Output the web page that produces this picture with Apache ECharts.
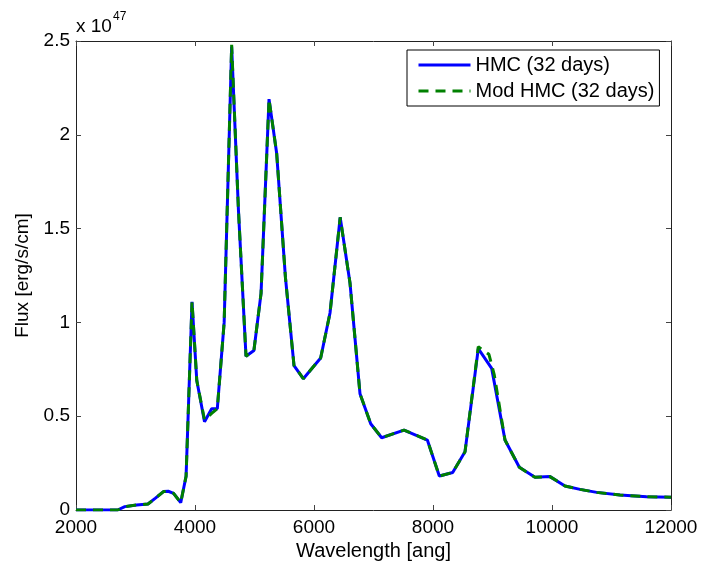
<!DOCTYPE html>
<html>
<head>
<meta charset="utf-8">
<script src="https://cdn.jsdelivr.net/npm/echarts@6/dist/echarts.min.js"></script>
<style>
html,body{margin:0;padding:0;background:#fff;}
#chart{width:703px;height:568px;}
</style>
</head>
<body>
<div id="chart"></div>
<script>
// Flux values are in units of 1e47 erg/s/cm
var hmcWave = [2000, 2700, 2820, 3020, 3210, 3330, 3470, 3550, 3640, 3760, 3850, 3950, 4030, 4160, 4280, 4375, 4490, 4616, 4730, 4857, 4990, 5110, 5244, 5373, 5520, 5664, 5820, 6112, 6269, 6440, 6605, 6773, 6953, 7137, 7513, 7905, 8106, 8331, 8538, 8761, 8986, 9210, 9451, 9714, 9966, 10218, 10471, 10751, 11143, 11591, 12000];
var hmcFlux = [0, 0, 0.018, 0.027, 0.032, 0.062, 0.098, 0.1, 0.089, 0.039, 0.18, 1.11, 0.69, 0.47, 0.54, 0.54, 1.0, 2.47, 1.6, 0.82, 0.85, 1.155, 2.19, 1.9, 1.24, 0.77, 0.7, 0.81, 1.05, 1.56, 1.21, 0.62, 0.46, 0.385, 0.426, 0.373, 0.181, 0.2, 0.31, 0.86, 0.755, 0.373, 0.228, 0.174, 0.178, 0.128, 0.11, 0.094, 0.08, 0.071, 0.068];
var modWave = [2000, 2700, 2820, 3020, 3210, 3330, 3470, 3550, 3640, 3760, 3850, 3950, 4030, 4160, 4280, 4375, 4490, 4616, 4730, 4857, 4990, 5110, 5244, 5373, 5520, 5664, 5820, 6112, 6269, 6440, 6605, 6773, 6953, 7137, 7513, 7905, 8106, 8331, 8538, 8761, 8940, 9030, 9210, 9451, 9714, 9966, 10218, 10471, 10751, 11143, 11591, 12000];
var modFlux = [0, 0, 0.018, 0.027, 0.032, 0.062, 0.098, 0.1, 0.089, 0.039, 0.18, 1.11, 0.69, 0.48, 0.515, 0.54, 1.0, 2.48, 1.6, 0.82, 0.85, 1.155, 2.19, 1.9, 1.24, 0.77, 0.7, 0.81, 1.05, 1.56, 1.21, 0.62, 0.46, 0.385, 0.426, 0.373, 0.181, 0.2, 0.31, 0.87, 0.83, 0.72, 0.373, 0.228, 0.174, 0.178, 0.128, 0.11, 0.094, 0.08, 0.071, 0.068];
var xTicks = [2000, 4000, 6000, 8000, 10000, 12000];
var yTicks = [0, 0.5, 1, 1.5, 2, 2.5];
var seriesNames = ['HMC (32 days)', 'Mod HMC (32 days)'];

function pairs(xs, ys) { return xs.map(function (x, i) { return [x, ys[i]]; }); }

var FONT = 'Liberation Sans, Arial, Helvetica, sans-serif';
var frame = '#222';
var chart = echarts.init(document.getElementById('chart'));

function xAx(pos, labels) {
  return {
    type: 'value', position: pos, min: xTicks[0], max: xTicks[xTicks.length - 1], interval: 2000,
    axisLine: { show: true, onZero: false, lineStyle: { color: frame, width: 1 } },
    axisTick: { show: true, inside: true, length: 5, lineStyle: { color: '#444' } },
    splitLine: { show: false },
    axisLabel: { show: labels, color: '#000', fontSize: 19, fontFamily: FONT, margin: 8,
      formatter: function (v) { return String(v); } },
    name: labels ? 'Wavelength [ang]' : '', nameLocation: 'middle', nameGap: 31,
    nameTextStyle: { color: '#000', fontSize: 20, fontFamily: FONT }
  };
}
function yAx(pos, labels) {
  return {
    type: 'value', position: pos, min: yTicks[0], max: yTicks[yTicks.length - 1], interval: 0.5,
    axisLine: { show: true, onZero: false, lineStyle: { color: frame, width: 1 } },
    axisTick: { show: true, inside: true, length: 5, lineStyle: { color: '#444' } },
    splitLine: { show: false },
    axisLabel: { show: labels, color: '#000', fontSize: 19, fontFamily: FONT, margin: 6 },
    name: labels ? 'Flux [erg/s/cm]' : '', nameLocation: 'middle', nameGap: 40,
    nameTextStyle: { color: '#000', fontSize: 19, fontFamily: FONT }
  };
}

chart.setOption({
  backgroundColor: '#fff',
  animation: false,
  grid: { left: 76, right: 32, top: 41, bottom: 58, containLabel: false },
  xAxis: [xAx('bottom', true), xAx('top', false)],
  yAxis: [yAx('left', true), yAx('right', false)],
  legend: {
    orient: 'vertical', left: 407, top: 50,
    itemWidth: 52, itemHeight: 20, itemGap: 6,
    padding: [5, 5, 5, 10],
    borderColor: '#000', borderWidth: 1, backgroundColor: '#fff',
    itemStyle: { opacity: 0, borderWidth: 0 },
    lineStyle: { width: 3 },
    textStyle: { color: '#000', fontSize: 20, fontFamily: FONT },
    data: seriesNames
  },
  graphic: [
    { type: 'text', left: 76, top: 17, style: { text: 'x 10', fill: '#000', font: '19px ' + FONT } },
    { type: 'text', left: 113, top: 11, style: { text: '47', fill: '#000', font: '12px ' + FONT } }
  ],
  series: [
    {
      name: seriesNames[0], type: 'line', data: pairs(hmcWave, hmcFlux),
      showSymbol: false, symbol: 'none', z: 2,
      lineStyle: { color: '#0000ff', width: 3 }, itemStyle: { color: '#0000ff' }
    },
    {
      name: seriesNames[1], type: 'line', data: pairs(modWave, modFlux),
      showSymbol: false, symbol: 'none', z: 3,
      lineStyle: { color: '#008000', width: 3, type: [10, 7] }, itemStyle: { color: '#008000' }
    }
  ]
});
</script>
</body>
</html>
